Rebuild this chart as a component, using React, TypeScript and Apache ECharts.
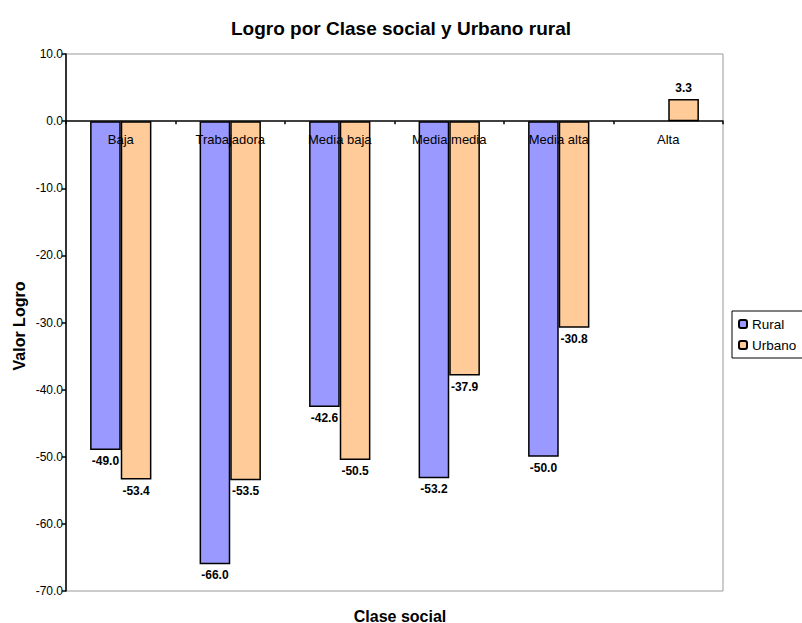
import React, { useEffect, useRef } from "react";
import * as echarts from "echarts";

const categories = ["Baja", "Trabajadora", "Media baja", "Media media", "Media alta", "Alta"];
const rural: (number | null)[] = [-49.0, -66.0, -42.6, -53.2, -50.0, null];
const urbano: (number | null)[] = [-53.4, -53.5, -50.5, -37.9, -30.8, 3.3];
const seriesNames = ["Rural", "Urbano"];
const title = "Logro por Clase social y Urbano rural";
const yName = "Valor Logro";
const xName = "Clase social";
const yMin = -70;
const yMax = 10;

const FONT = "Liberation Sans, Arial, sans-serif";
const GRID_TOP = 54;
const GRID_BOTTOM = 32;
const H = 623;

export default function App() {
  const ref = useRef<HTMLDivElement>(null);
  useEffect(() => {
    if (!ref.current) return;
    const chart = echarts.init(ref.current, undefined, { renderer: "svg" });
    const plotH = H - GRID_TOP - GRID_BOTTOM;
    const zeroOffset = -(plotH * (yMax - 0)) / (yMax - yMin);
    const label = {
      show: true,
      position: "outside" as any,
      distance: 5,
      fontFamily: FONT,
      fontSize: 12,
      fontWeight: "bold" as const,
      color: "#000",
      formatter: (p: any) => (p.value == null ? "" : Number(p.value).toFixed(1)),
    };
    chart.setOption({
      animation: false,
      backgroundColor: "#fff",
      title: {
        text: title,
        left: "center",
        top: 14,
        textStyle: { fontFamily: FONT, fontSize: 19, fontWeight: "bold", color: "#000" },
      },
      grid: {
        left: 66,
        right: 79,
        top: GRID_TOP,
        bottom: GRID_BOTTOM,
        show: true,
        borderColor: "#999",
        borderWidth: 1,
        backgroundColor: "transparent",
      },
      legend: {
        orient: "vertical",
        left: 732,
        top: 311,
        padding: [6, 8, 6, 6],
        itemWidth: 8,
        itemHeight: 8,
        itemGap: 7,
        borderColor: "#000",
        borderWidth: 1,
        textStyle: { fontFamily: FONT, fontSize: 13.5, color: "#000", padding: [0, 0, 0, 0] },
        data: seriesNames,
      },
      xAxis: {
        type: "category",
        data: categories,
        position: "top",
        offset: zeroOffset,
        z: 10,
        axisLine: { onZero: false, lineStyle: { color: "#000", width: 1.5 } },
        axisTick: { show: true, inside: true, length: 3, lineStyle: { color: "#000", width: 1.5 } },
        axisLabel: { inside: true, fontFamily: FONT, fontSize: 13, color: "#000", margin: 12 },
        splitLine: { show: false },
      },
      yAxis: {
        type: "value",
        min: yMin,
        max: yMax,
        interval: 10,
        axisLine: { show: true, lineStyle: { color: "#000", width: 1.5 } },
        axisTick: { show: true, length: 4, lineStyle: { color: "#000", width: 1.5 } },
        axisLabel: {
          fontFamily: FONT,
          fontSize: 12,
          color: "#000",
          margin: 3,
          formatter: (v: number) => v.toFixed(1),
        },
        splitLine: { show: false },
      },
      graphic: [
        {
          type: "text",
          x: 19,
          y: 326,
          rotation: Math.PI / 2,
          style: {
            text: yName,
            fontFamily: FONT,
            fontSize: 16,
            fontWeight: "bold",
            fill: "#000",
            textAlign: "center",
            textVerticalAlign: "middle",
          },
        },
        {
          type: "text",
          x: 400,
          y: 616,
          style: {
            text: xName,
            fontFamily: FONT,
            fontSize: 16,
            fontWeight: "bold",
            fill: "#000",
            textAlign: "center",
            textVerticalAlign: "middle",
          },
        },
      ],
      series: [
        {
          name: seriesNames[0],
          type: "bar",
          data: rural,
          barGap: "0%",
          barCategoryGap: "44%",
          itemStyle: { color: "#9999FF", borderColor: "#000", borderWidth: 1.5 },
          label,
        },
        {
          name: seriesNames[1],
          type: "bar",
          data: urbano,
          barGap: "0%",
          barCategoryGap: "44%",
          itemStyle: { color: "#FFCC99", borderColor: "#000", borderWidth: 1.5 },
          label,
        },
      ],
    });
    return () => chart.dispose();
  }, []);
  return <div ref={ref} style={{ width: 802, height: 623, position: "absolute", left: 0, top: 0 }} />;
}
